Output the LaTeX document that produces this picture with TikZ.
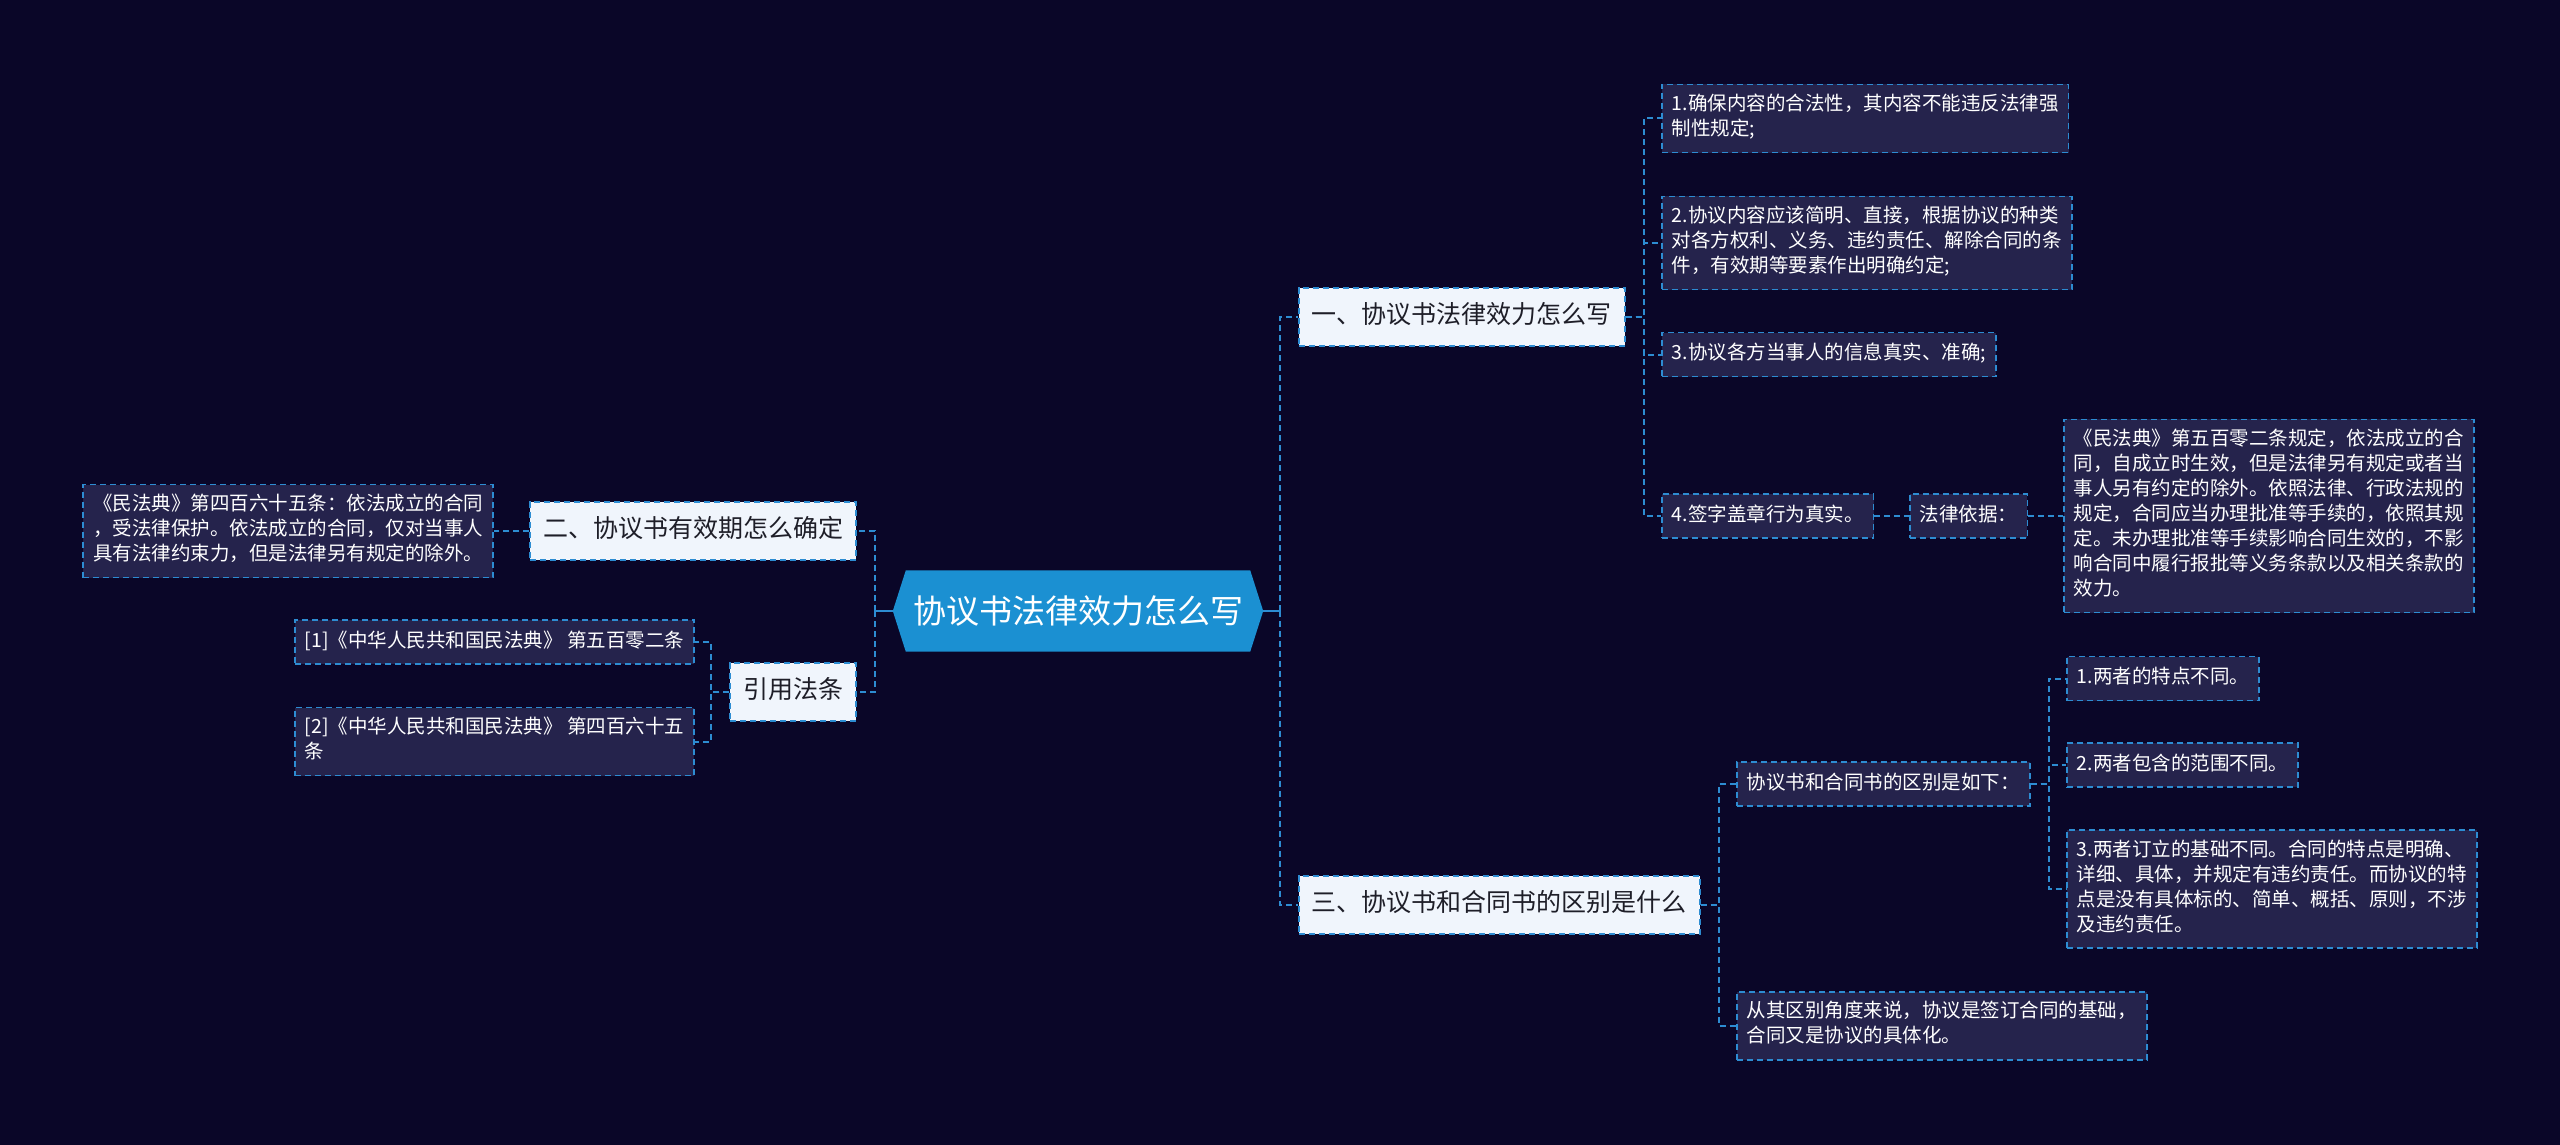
\documentclass[tikz,border=0pt]{standalone}
\usepackage{fontspec}
\newfontfamily\cjkfont{Noto Sans CJK SC}
\usetikzlibrary{backgrounds}
\definecolor{pagebg}{RGB}{10,6,40}
\definecolor{leafbg}{RGB}{37,35,76}
\definecolor{linkblue}{RGB}{45,140,210}
\definecolor{rootblue}{RGB}{27,144,210}
\definecolor{branchbg}{RGB}{240,245,252}
\definecolor{branchtext}{RGB}{30,30,40}
\newcommand\leaffont{\cjkfont\fontsize{19.5}{25}\selectfont}
\newcommand\branchfont{\cjkfont\fontsize{25}{30}\selectfont}
\newcommand\rootfont{\cjkfont\fontsize{33}{40}\selectfont}
\tikzset{
  link/.style={draw=linkblue,line width=2pt,dash pattern=on 6pt off 4pt},
  stub/.style={draw=linkblue,line width=2pt},
  leaf/.style={draw=linkblue,line width=1.6pt,dash pattern=on 6pt off 4pt,fill=leafbg,text=white,
    font=\leaffont,align=left,inner xsep=10pt,inner ysep=9.5pt,
    execute at begin node=\strut,execute at end node=\strut},
  branch/.style={draw=linkblue,line width=1.6pt,dash pattern=on 6pt off 4pt,fill=branchbg,
    text=branchtext,font=\branchfont,inner xsep=13pt,inner ysep=14pt,execute at begin node=\strut},
  rootnode/.style={text=white,font=\rootfont,minimum width=370pt,minimum height=81pt,inner sep=0pt}
}
\begin{document}
\begin{tikzpicture}[x=1pt,y=-1pt]
  \useasboundingbox (0,0) rectangle (2560,1145);
  \node[rootnode] (root) at (1078,611) {协议书法律效力怎么写};
  % main branches
  \node[branch,anchor=west] (b1) at (1298,317) {一、协议书法律效力怎么写};
  \node[branch,anchor=east] (b2) at (857,531) {二、协议书有效期怎么确定};
  \node[branch,anchor=west] (b3) at (1298,905) {三、协议书和合同书的区别是什么};
  \node[branch,anchor=east] (cite) at (857,692) {引用法条};
  % branch one
  \node[leaf,anchor=west] (l1) at (1661,118.5) {1.确保内容的合法性，其内容不能违反法律强\\制性规定;};
  \node[leaf,anchor=west] (l2) at (1661,243) {2.协议内容应该简明、直接，根据协议的种类\\对各方权利、义务、违约责任、解除合同的条\\件，有效期等要素作出明确约定;};
  \node[leaf,anchor=west] (l3) at (1661,354.5) {3.协议各方当事人的信息真实、准确;};
  \node[leaf,anchor=west] (l4) at (1661,516) {4.签字盖章行为真实。};
  \node[leaf,anchor=west] (basis) at (1909,516) {法律依据：};
  \node[leaf,anchor=west] (art502) at (2063,516) {《民法典》第五百零二条规定，依法成立的合\\同，自成立时生效，但是法律另有规定或者当\\事人另有约定的除外。依照法律、行政法规的\\规定，合同应当办理批准等手续的，依照其规\\定。未办理批准等手续影响合同生效的，不影\\响合同中履行报批等义务条款以及相关条款的\\效力。};
  % branch two and references
  \node[leaf,anchor=east] (art465) at (494,531) {《民法典》第四百六十五条：依法成立的合同\\，受法律保护。依法成立的合同，仅对当事人\\具有法律约束力，但是法律另有规定的除外。};
  \node[leaf,anchor=east] (ref1) at (695,642) {[1]《中华人民共和国民法典》 第五百零二条};
  \node[leaf,anchor=east] (ref2) at (695,741.5) {[2]《中华人民共和国民法典》 第四百六十五\\条};
  % branch three
  \node[leaf,anchor=west] (diff) at (1736,784) {协议书和合同书的区别是如下：};
  \node[leaf,anchor=west] (d1) at (2066,678.5) {1.两者的特点不同。};
  \node[leaf,anchor=west] (d2) at (2066,765) {2.两者包含的范围不同。};
  \node[leaf,anchor=west] (d3) at (2066,889) {3.两者订立的基础不同。合同的特点是明确、\\详细、具体，并规定有违约责任。而协议的特\\点是没有具体标的、简单、概括、原则，不涉\\及违约责任。};
  \node[leaf,anchor=west] (concl) at (1736,1026) {从其区别角度来说，协议是签订合同的基础，\\合同又是协议的具体化。};
  \begin{scope}[on background layer]
    \fill[pagebg] (0,0) rectangle (2560,1145);
    \fill[rootblue] (root.west) -- ([xshift=13pt]root.north west) -- ([xshift=-13pt]root.north east)
      -- (root.east) -- ([xshift=-13pt]root.south east) -- ([xshift=13pt]root.south west) -- cycle;
  \end{scope}
  % connectors
  \draw[stub] (root.east) -- ++(17,0);
  \draw[stub] (root.west) -- ++(-18,0);
  \foreach \n in {b1,b3} \draw[link] ([xshift=17pt]root.east) |- (\n.west);
  \foreach \n in {b2,cite} \draw[link] ([xshift=-18pt]root.west) |- (\n.east);
  \foreach \n in {l1,l2,l3,l4} \draw[link] (b1.east) -- ++(18,0) |- (\n.west);
  \draw[link] (l4.east) -- (basis.west);
  \draw[link] (basis.east) -- (art502.west);
  \draw[link] (b2.west) -- (art465.east);
  \foreach \n in {ref1,ref2} \draw[link] (cite.west) -- ++(-18,0) |- (\n.east);
  \foreach \n in {diff,concl} \draw[link] (b3.east) -- ++(18,0) |- (\n.west);
  \foreach \n in {d1,d2,d3} \draw[link] (diff.east) -- ++(18,0) |- (\n.west);
\end{tikzpicture}
\end{document}
